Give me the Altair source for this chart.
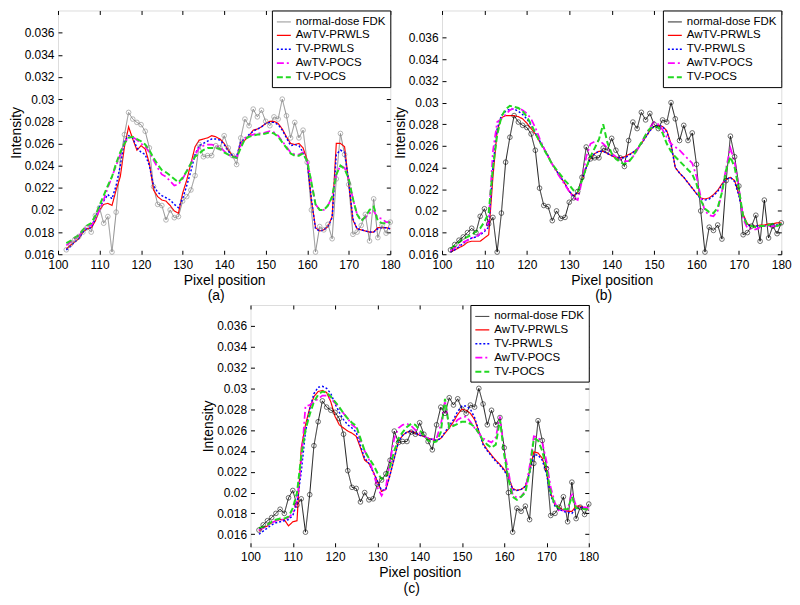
import altair as alt
import pandas as pd

pixels = list(range(102, 181))
series_names = ["normal-dose FDK", "AwTV-PRWLS", "TV-PRWLS", "AwTV-POCS", "TV-POCS"]
x_ticks = [100, 110, 120, 130, 140, 150, 160, 170, 180]
y_ticks = [0.016, 0.018, 0.020, 0.022, 0.024, 0.026, 0.028, 0.030, 0.032, 0.034, 0.036]

fdk = [0.0164, 0.0169, 0.0173, 0.0176, 0.0180, 0.0184, 0.0180, 0.0195, 0.0202, 0.0188,
       0.0194, 0.0162, 0.0198, 0.0245, 0.0268, 0.0288, 0.0282, 0.0279, 0.0277, 0.0271,
       0.0256, 0.0221, 0.0205, 0.0204, 0.0191, 0.0200, 0.0193, 0.0194, 0.0208, 0.0212,
       0.0218, 0.0231, 0.0259, 0.0248, 0.0249, 0.0249, 0.0258, 0.0256, 0.0267, 0.0256,
       0.0249, 0.0241, 0.0265, 0.0282, 0.0276, 0.0291, 0.0284, 0.0290, 0.0280, 0.0276,
       0.0284, 0.0282, 0.0300, 0.0285, 0.0265, 0.0279, 0.0265, 0.0272, 0.0243, 0.0200,
       0.0162, 0.0185, 0.0182, 0.0187, 0.0174, 0.0228, 0.0269, 0.0250, 0.0223, 0.0178,
       0.0180, 0.0186, 0.0196, 0.0172, 0.0210, 0.0175, 0.0186, 0.0179, 0.0189]

# panel (a)
a_awtv_prwls = [0.0165, 0.0168, 0.0171, 0.0174, 0.0180, 0.0183, 0.0184, 0.0190, 0.0200, 0.0205,
                0.0206, 0.0204, 0.0218, 0.0230, 0.0257, 0.0275, 0.0264, 0.0254, 0.0258, 0.0255,
                0.0242, 0.0218, 0.0212, 0.0209, 0.0208, 0.0204, 0.0199, 0.0197, 0.0215, 0.0227,
                0.0242, 0.0257, 0.0263, 0.0264, 0.0265, 0.0267, 0.0266, 0.0264, 0.0260, 0.0254,
                0.0249, 0.0247, 0.0261, 0.0263, 0.0267, 0.0272, 0.0273, 0.0275, 0.0278, 0.0280,
                0.0280, 0.0278, 0.0273, 0.0266, 0.0260, 0.0259, 0.0260, 0.0256, 0.0245, 0.0209,
                0.0184, 0.0181, 0.0182, 0.0185, 0.0194, 0.0260, 0.0260, 0.0257, 0.0224, 0.0191,
                0.0183, 0.0182, 0.0181, 0.0180, 0.0180, 0.0184, 0.0184, 0.0184, 0.0183]
a_tv_prwls = [0.0164, 0.0167, 0.0171, 0.0174, 0.0180, 0.0183, 0.0184, 0.0192, 0.0203, 0.0208,
              0.0214, 0.0210, 0.0222, 0.0240, 0.0262, 0.0267, 0.0265, 0.0256, 0.0252, 0.0250,
              0.0240, 0.0222, 0.0216, 0.0213, 0.0211, 0.0209, 0.0205, 0.0202, 0.0210, 0.0222,
              0.0235, 0.0250, 0.0258, 0.0260, 0.0262, 0.0264, 0.0264, 0.0263, 0.0259, 0.0253,
              0.0249, 0.0248, 0.0262, 0.0264, 0.0268, 0.0271, 0.0273, 0.0275, 0.0278, 0.0279,
              0.0279, 0.0277, 0.0272, 0.0265, 0.0258, 0.0259, 0.0258, 0.0252, 0.0243, 0.0210,
              0.0183, 0.0181, 0.0182, 0.0185, 0.0193, 0.0250, 0.0254, 0.0252, 0.0225, 0.0192,
              0.0183, 0.0182, 0.0181, 0.0180, 0.0180, 0.0183, 0.0184, 0.0184, 0.0183]
a_awtv_pocs = [0.0168, 0.0171, 0.0174, 0.0176, 0.0182, 0.0185, 0.0186, 0.0192, 0.0200, 0.0209,
               0.0220, 0.0230, 0.0240, 0.0250, 0.0260, 0.0266, 0.0266, 0.0263, 0.0260, 0.0257,
               0.0252, 0.0245, 0.0238, 0.0232, 0.0230, 0.0226, 0.0222, 0.0223, 0.0228, 0.0235,
               0.0242, 0.0250, 0.0256, 0.0258, 0.0259, 0.0259, 0.0258, 0.0257, 0.0253, 0.0250,
               0.0248, 0.0247, 0.0258, 0.0265, 0.0267, 0.0268, 0.0269, 0.0269, 0.0270, 0.0271,
               0.0270, 0.0267, 0.0262, 0.0257, 0.0252, 0.0250, 0.0250, 0.0252, 0.0245, 0.0225,
               0.0205, 0.0200, 0.0200, 0.0204, 0.0212, 0.0232, 0.0240, 0.0238, 0.0228, 0.0210,
               0.0196, 0.0191, 0.0193, 0.0197, 0.0199, 0.0193, 0.0192, 0.0189, 0.0189]
a_tv_pocs = [0.0170, 0.0172, 0.0175, 0.0177, 0.0182, 0.0186, 0.0188, 0.0195, 0.0204, 0.0213,
             0.0222, 0.0230, 0.0242, 0.0252, 0.0260, 0.0265, 0.0266, 0.0264, 0.0262, 0.0259,
             0.0254, 0.0247, 0.0241, 0.0236, 0.0234, 0.0231, 0.0228, 0.0225, 0.0229, 0.0235,
             0.0242, 0.0248, 0.0251, 0.0254, 0.0256, 0.0256, 0.0256, 0.0255, 0.0252, 0.0250,
             0.0248, 0.0247, 0.0256, 0.0264, 0.0266, 0.0267, 0.0268, 0.0268, 0.0269, 0.0270,
             0.0269, 0.0266, 0.0261, 0.0256, 0.0251, 0.0249, 0.0249, 0.0251, 0.0244, 0.0225,
             0.0205, 0.0200, 0.0200, 0.0204, 0.0212, 0.0232, 0.0240, 0.0237, 0.0228, 0.0210,
             0.0196, 0.0190, 0.0194, 0.0200, 0.0203, 0.0190, 0.0188, 0.0188, 0.0189]

# panel (b)
b_awtv_prwls = [0.0162, 0.0164, 0.0166, 0.0168, 0.0171, 0.0172, 0.0172, 0.0172, 0.0175, 0.0178,
                0.0231, 0.0274, 0.0286, 0.0288, 0.0288, 0.0288, 0.0287, 0.0285, 0.0281, 0.0276,
                0.0271, 0.0264, 0.0258, 0.0251, 0.0243, 0.0237, 0.0231, 0.0225, 0.0218, 0.0214,
                0.0217, 0.0228, 0.0240, 0.0249, 0.0253, 0.0255, 0.0255, 0.0253, 0.0251, 0.0249,
                0.0249, 0.0250, 0.0252, 0.0254, 0.0257, 0.0262, 0.0268, 0.0274, 0.0278, 0.0279,
                0.0278, 0.0274, 0.0262, 0.0240, 0.0235, 0.0231, 0.0226, 0.0221, 0.0216, 0.0212,
                0.0211, 0.0212, 0.0215, 0.0219, 0.0225, 0.0229, 0.0231, 0.0228, 0.0215, 0.0197,
                0.0188, 0.0186, 0.0186, 0.0187, 0.0187, 0.0188, 0.0188, 0.0189, 0.0189]
b_tv_prwls = [0.0162, 0.0164, 0.0167, 0.0170, 0.0173, 0.0175, 0.0176, 0.0178, 0.0181, 0.0185,
              0.0240, 0.0276, 0.0288, 0.0292, 0.0294, 0.0294, 0.0292, 0.0289, 0.0285, 0.0279,
              0.0272, 0.0265, 0.0258, 0.0251, 0.0243, 0.0237, 0.0231, 0.0225, 0.0218, 0.0214,
              0.0217, 0.0228, 0.0240, 0.0249, 0.0253, 0.0255, 0.0255, 0.0253, 0.0251, 0.0249,
              0.0249, 0.0249, 0.0251, 0.0254, 0.0257, 0.0262, 0.0268, 0.0274, 0.0278, 0.0279,
              0.0278, 0.0273, 0.0261, 0.0240, 0.0235, 0.0231, 0.0226, 0.0221, 0.0216, 0.0211,
              0.0210, 0.0211, 0.0214, 0.0218, 0.0224, 0.0229, 0.0231, 0.0227, 0.0214, 0.0196,
              0.0187, 0.0186, 0.0186, 0.0186, 0.0186, 0.0187, 0.0187, 0.0187, 0.0188]
b_awtv_pocs = [0.0163, 0.0166, 0.0168, 0.0171, 0.0173, 0.0175, 0.0176, 0.0179, 0.0182, 0.0190,
               0.0255, 0.0282, 0.0285, 0.0289, 0.0293, 0.0295, 0.0295, 0.0293, 0.0290, 0.0285,
               0.0277, 0.0267, 0.0258, 0.0250, 0.0243, 0.0236, 0.0230, 0.0224, 0.0218, 0.0212,
               0.0210, 0.0228, 0.0250, 0.0262, 0.0264, 0.0265, 0.0262, 0.0258, 0.0253, 0.0250,
               0.0248, 0.0246, 0.0246, 0.0250, 0.0256, 0.0263, 0.0270, 0.0277, 0.0282, 0.0280,
               0.0275, 0.0268, 0.0262, 0.0259, 0.0256, 0.0252, 0.0248, 0.0244, 0.0232, 0.0213,
               0.0200, 0.0196, 0.0195, 0.0200, 0.0218, 0.0240, 0.0258, 0.0245, 0.0222, 0.0193,
               0.0184, 0.0183, 0.0183, 0.0185, 0.0186, 0.0186, 0.0186, 0.0186, 0.0187]
b_tv_pocs = [0.0165, 0.0168, 0.0171, 0.0174, 0.0176, 0.0178, 0.0181, 0.0184, 0.0190, 0.0198,
             0.0240, 0.0270, 0.0287, 0.0294, 0.0297, 0.0296, 0.0295, 0.0292, 0.0287, 0.0280,
             0.0272, 0.0264, 0.0257, 0.0250, 0.0243, 0.0238, 0.0233, 0.0228, 0.0224, 0.0219,
             0.0218, 0.0228, 0.0240, 0.0250, 0.0258, 0.0266, 0.0280, 0.0263, 0.0253, 0.0248,
             0.0245, 0.0243, 0.0245, 0.0250, 0.0257, 0.0263, 0.0270, 0.0276, 0.0278, 0.0277,
             0.0272, 0.0262, 0.0255, 0.0250, 0.0246, 0.0242, 0.0238, 0.0234, 0.0225, 0.0210,
             0.0202, 0.0199, 0.0198, 0.0203, 0.0217, 0.0238, 0.0250, 0.0240, 0.0220, 0.0195,
             0.0187, 0.0186, 0.0185, 0.0186, 0.0186, 0.0187, 0.0188, 0.0186, 0.0188]

# panel (c)
c_awtv_prwls = [0.0163, 0.0166, 0.0168, 0.0171, 0.0173, 0.0174, 0.0174, 0.0168, 0.0172, 0.0173,
                0.0243, 0.0265, 0.0281, 0.0292, 0.0297, 0.0298, 0.0296, 0.0287, 0.0273, 0.0265,
                0.0262, 0.0259, 0.0257, 0.0254, 0.0243, 0.0231, 0.0228, 0.0220, 0.0211, 0.0201,
                0.0203, 0.0217, 0.0233, 0.0249, 0.0255, 0.0258, 0.0259, 0.0257, 0.0255, 0.0254,
                0.0252, 0.0251, 0.0250, 0.0252, 0.0257, 0.0262, 0.0268, 0.0275, 0.0280, 0.0279,
                0.0276, 0.0270, 0.0259, 0.0247, 0.0241, 0.0236, 0.0231, 0.0227, 0.0222, 0.0215,
                0.0204, 0.0202, 0.0203, 0.0206, 0.0220, 0.0239, 0.0238, 0.0233, 0.0220, 0.0199,
                0.0188, 0.0186, 0.0183, 0.0182, 0.0182, 0.0187, 0.0187, 0.0185, 0.0183]
c_tv_prwls = [0.0160, 0.0163, 0.0166, 0.0169, 0.0171, 0.0172, 0.0173, 0.0174, 0.0178, 0.0190,
              0.0220, 0.0258, 0.0280, 0.0295, 0.0301, 0.0302, 0.0300, 0.0295, 0.0285, 0.0277,
              0.0270, 0.0265, 0.0262, 0.0258, 0.0245, 0.0233, 0.0228, 0.0220, 0.0211, 0.0202,
              0.0203, 0.0217, 0.0233, 0.0249, 0.0255, 0.0258, 0.0259, 0.0257, 0.0255, 0.0254,
              0.0252, 0.0251, 0.0250, 0.0252, 0.0258, 0.0264, 0.0270, 0.0278, 0.0283, 0.0283,
              0.0280, 0.0272, 0.0259, 0.0246, 0.0240, 0.0235, 0.0230, 0.0226, 0.0221, 0.0214,
              0.0203, 0.0202, 0.0203, 0.0206, 0.0219, 0.0236, 0.0236, 0.0231, 0.0218, 0.0197,
              0.0187, 0.0184, 0.0182, 0.0181, 0.0180, 0.0185, 0.0186, 0.0185, 0.0183]
c_awtv_pocs = [0.0164, 0.0166, 0.0168, 0.0171, 0.0173, 0.0174, 0.0174, 0.0176, 0.0180, 0.0192,
               0.0230, 0.0283, 0.0284, 0.0287, 0.0290, 0.0293, 0.0293, 0.0290, 0.0286, 0.0281,
               0.0276, 0.0271, 0.0265, 0.0262, 0.0250, 0.0240, 0.0232, 0.0220, 0.0205, 0.0197,
               0.0205, 0.0230, 0.0252, 0.0262, 0.0265, 0.0266, 0.0264, 0.0260, 0.0257, 0.0254,
               0.0252, 0.0251, 0.0252, 0.0265, 0.0288, 0.0262, 0.0265, 0.0270, 0.0272, 0.0273,
               0.0268, 0.0262, 0.0257, 0.0252, 0.0250, 0.0248, 0.0253, 0.0273, 0.0240, 0.0220,
               0.0198, 0.0195, 0.0196, 0.0202, 0.0225, 0.0254, 0.0253, 0.0248, 0.0230, 0.0205,
               0.0190, 0.0182, 0.0183, 0.0183, 0.0200, 0.0187, 0.0185, 0.0186, 0.0185]
c_tv_pocs = [0.0166, 0.0167, 0.0169, 0.0172, 0.0174, 0.0175, 0.0175, 0.0177, 0.0185, 0.0200,
             0.0235, 0.0260, 0.0275, 0.0287, 0.0294, 0.0297, 0.0296, 0.0292, 0.0287, 0.0282,
             0.0276, 0.0271, 0.0267, 0.0264, 0.0252, 0.0240, 0.0233, 0.0227, 0.0219, 0.0213,
             0.0215, 0.0225, 0.0240, 0.0252, 0.0258, 0.0263, 0.0266, 0.0265, 0.0260, 0.0255,
             0.0250, 0.0248, 0.0249, 0.0258, 0.0290, 0.0262, 0.0264, 0.0266, 0.0268, 0.0268,
             0.0266, 0.0263, 0.0257, 0.0250, 0.0246, 0.0243, 0.0246, 0.0270, 0.0236, 0.0213,
             0.0196, 0.0193, 0.0196, 0.0200, 0.0220, 0.0252, 0.0250, 0.0240, 0.0223, 0.0200,
             0.0188, 0.0185, 0.0184, 0.0184, 0.0196, 0.0185, 0.0185, 0.0184, 0.0184]

FONT = "Liberation Sans"
recon_colors = ["#ff0000", "#0000ff", "#ff00ff", "#22d822"]
dashes = [[1, 0], [1, 0], [2, 2], [7, 3, 2, 3], [6, 3]]
widths = [0.9, 2.0, 2.0, 1.8, 1.8]
LBL = 12
TTL = 14


def panel(series_lists, fdk_color, label, w, h, ydom):
    rows = []
    for name, vals in zip(series_names, series_lists):
        for p, v in zip(pixels, vals):
            rows.append({"pixel": p, "value": v, "series": name})
    df = pd.DataFrame(rows)
    xs = alt.Scale(domain=[100, 180], nice=False, zero=False)
    ys = alt.Scale(domain=ydom, nice=False, zero=False)
    leg = alt.Legend(title=None, orient="top-right", offset=0, padding=4,
                     strokeColor="black", fillColor="white", labelFont=FONT,
                     labelFontSize=11.5, labelColor="black", symbolType="stroke",
                     symbolSize=196, symbolStrokeWidth=2, rowPadding=0,
                     labelOffset=4, cornerRadius=0)
    common = dict(labelFont=FONT, titleFont=FONT, labelFontSize=LBL, titleFontSize=TTL,
                  titleFontWeight="normal", labelColor="black", titleColor="black",
                  tickColor="black", grid=False, domain=False, offset=-4, tickSize=4)
    base = alt.Chart(df)
    lines = base.mark_line().encode(
        x=alt.X("pixel:Q", scale=xs,
                axis=alt.Axis(values=x_ticks, title="Pixel position", labelPadding=5,
                              titlePadding=3, labelFlush=False, **common)),
        y=alt.Y("value:Q", scale=ys,
                axis=alt.Axis(values=y_ticks, format=".3~f", title="Intensity",
                              labelPadding=4, titlePadding=1, **common)),
        color=alt.Color("series:N", sort=series_names,
                        scale=alt.Scale(domain=series_names,
                                        range=[fdk_color] + recon_colors),
                        legend=leg),
        strokeDash=alt.StrokeDash("series:N", sort=series_names,
                                  scale=alt.Scale(domain=series_names, range=dashes),
                                  legend=leg),
        strokeWidth=alt.StrokeWidth("series:N",
                                    scale=alt.Scale(domain=series_names, range=widths),
                                    legend=None),
        order=alt.Order("pixel:Q"),
    )
    pts = base.transform_filter(alt.datum.series == series_names[0]).mark_point(
        shape="circle", size=22, filled=False, strokeWidth=0.8, color=fdk_color
    ).encode(
        x=alt.X("pixel:Q", scale=xs, axis=None),
        y=alt.Y("value:Q", scale=ys, axis=None),
    )
    frame = base.mark_line(opacity=0).encode(
        x=alt.X("pixel:Q", scale=xs,
                axis=alt.Axis(values=x_ticks, orient="top", labels=False, title=None,
                              **common)),
        y=alt.Y("value:Q", scale=ys,
                axis=alt.Axis(values=y_ticks, orient="right", labels=False, title=None,
                              **common)),
        detail="series:N",
    )
    return alt.layer(lines, pts, frame).resolve_scale(
        x="independent", y="independent"
    ).resolve_axis(x="independent", y="independent").properties(
        width=w, height=h,
        title=alt.TitleParams(label, orient="bottom", font=FONT, fontSize=TTL,
                              fontWeight="normal", color="black", offset=2, dx=-8),
    )


pa = panel([fdk, a_awtv_prwls, a_tv_prwls, a_awtv_pocs, a_tv_pocs], "#808080",
           "(a)", 334, 245, [0.016, 0.038])
pb = panel([fdk, b_awtv_prwls, b_tv_prwls, b_awtv_pocs, b_tv_pocs], "#000000",
           "(b)", 341, 245, [0.016, 0.0385])
pc = panel([fdk, c_awtv_prwls, c_tv_prwls, c_awtv_pocs, c_tv_pocs], "#000000",
           "(c)", 340, 243, [0.0148, 0.038])

top = alt.hconcat(pa, pb, spacing=52, bounds="flush").resolve_scale(
    color="independent", strokeDash="independent", strokeWidth="independent"
).resolve_legend(color="independent", strokeDash="independent")

chart = alt.vconcat(top, pc, spacing=0, center=True).resolve_scale(
    color="independent", strokeDash="independent", strokeWidth="independent"
).resolve_legend(color="independent", strokeDash="independent").properties(
    padding={"left": 0, "top": 0, "right": 0, "bottom": 0}
).configure_view(stroke="black", strokeWidth=1).configure(background="white")

chart.save("out.html", embed_options={"renderer": "svg", "actions": False})
